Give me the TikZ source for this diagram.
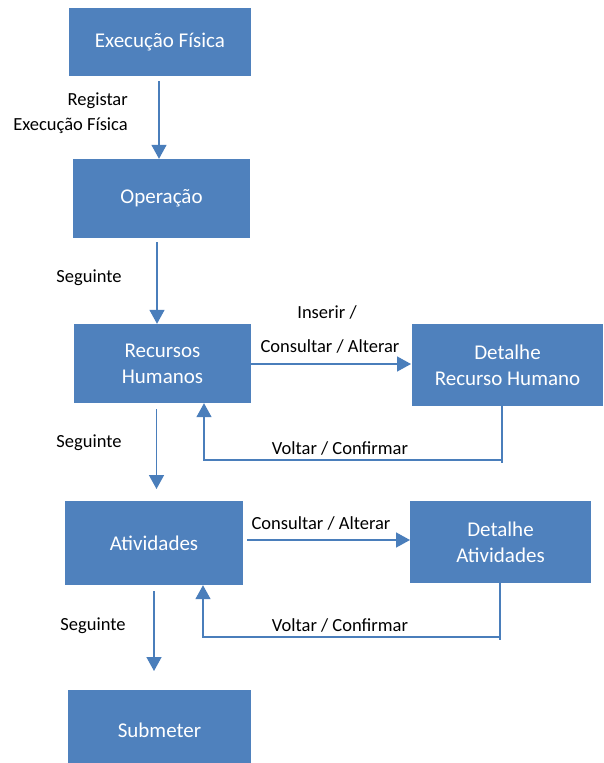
\documentclass[tikz,border=0pt]{standalone}
\usepackage{fontspec}
\setmainfont{Carlito}
\usetikzlibrary{arrows.meta}
\definecolor{boxblue}{HTML}{4F81BD}
\definecolor{lineblue}{HTML}{4A7EBB}
\begin{document}
\begin{tikzpicture}[x=1pt,y=-1pt,
  box/.style={fill=boxblue, text=white, font=\fontsize{21}{26}\selectfont, align=center, inner sep=0pt, draw=none},
  lbl/.style={font=\fontsize{18.5}{25}\selectfont, text=black, inner sep=0pt},
  conn/.style={draw=lineblue, line width=1.5pt, -{Triangle[width=15pt,length=14pt]}},
  plain/.style={draw=lineblue, line width=1.5pt}]
\clip (0,0) rectangle (603,763);
\fill[white] (0,0) rectangle (603,763);
% boxes
\node[box, minimum width=182pt, minimum height=68pt] (b1) at (160,42) {Execução Física};
\node[box, minimum width=177pt, minimum height=79pt] (b2) at (161.5,198.5) {Operação};
\node[box, minimum width=177pt, minimum height=79pt] (b3) at (162.5,363.5) {Recursos\\Humanos};
\node[box, minimum width=191pt, minimum height=82pt] (b4) at (507.5,365) {Detalhe\\Recurso Humano};
\node[box, minimum width=178pt, minimum height=84pt] (b5) at (154,543) {Atividades};
\node[box, minimum width=181pt, minimum height=82pt] (b6) at (500.5,542) {Detalhe\\Atividades};
\node[box, minimum width=183pt, minimum height=80pt] (b7) at (159.5,730) {Submeter};
% coordinates
\coordinate (a1s) at (159,81);
\coordinate (a2s) at (157,242);
\coordinate (a3s) at (251,364);
\coordinate (a3e) at (411,364);
\coordinate (r1) at (502,460);
\coordinate (r1t) at (502,463);
\coordinate (r2) at (204,460);
\coordinate (a5s) at (156.5,409);
\coordinate (a5e) at (156.5,489);
\coordinate (a6s) at (247,540);
\coordinate (a6e) at (410,540);
\coordinate (s1) at (500,637);
\coordinate (s1t) at (500,640);
\coordinate (s2) at (203,637);
\coordinate (a8s) at (154,591);
\coordinate (a8e) at (154,671);
% connectors
\draw[conn] (a1s) -- (a1s |- b2.north);
\draw[conn] (a2s) -- (a2s |- b3.north);
\draw[conn] (a3s) -- (a3e);
\draw[plain] (r1 |- b4.south) -- (r1t);
\draw[conn] (r1) -- (r2) -- (r2 |- b3.south);
\draw[conn] (a5s) -- (a5e);
\draw[conn] (a6s) -- (a6e);
\draw[plain] (s1 |- b6.south) -- (s1t);
\draw[conn] (s1) -- (s2) -- (s2 |- b5.south);
\draw[conn] (a8s) -- (a8e);
% labels
\node[lbl, align=right, anchor=east] (l1) at (128,113.5) {Registar\\Execução Física};
\node[lbl] (l2) at (89,278) {Seguinte};
\node[lbl] (l3) at (327,312) {Inserir /};
\node[lbl] (l4) at (330,346) {Consultar / Alterar};
\node[lbl] (l5) at (340,448) {Voltar / Confirmar};
\node[lbl] (l6) at (89,443) {Seguinte};
\node[lbl] (l7) at (321,523) {Consultar / Alterar};
\node[lbl] (l8) at (340,625) {Voltar / Confirmar};
\node[lbl] (l9) at (93,626) {Seguinte};
\end{tikzpicture}
\end{document}
